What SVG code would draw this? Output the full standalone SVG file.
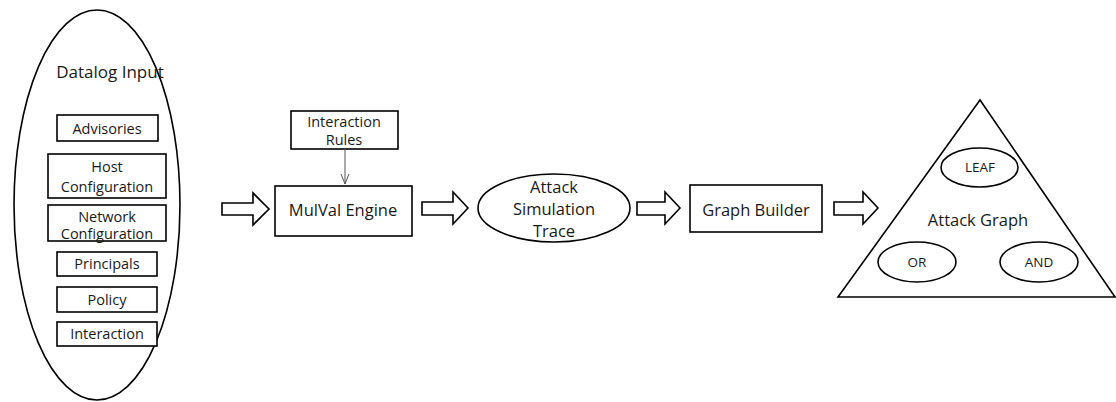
<svg xmlns="http://www.w3.org/2000/svg" width="1116" height="402" viewBox="0 0 1116 402">
<defs>
<style>
.s{fill:#fff;stroke:#000;stroke-width:1.6}
.t{font-family:"Open Sans","Liberation Sans",sans-serif;fill:#1a1a1a;text-anchor:middle}
.b{font-size:16.5px}
.m{font-size:14.5px}
.sm{font-size:13.5px}
.ba{fill:#fff;stroke:#000;stroke-width:1.6;stroke-linejoin:miter}
</style>
<marker id="v" viewBox="0 0 10 12" refX="5" refY="11" markerWidth="10" markerHeight="12" markerUnits="userSpaceOnUse" orient="0">
<path d="M1,1 L5,11 L9,1" fill="none" stroke="#555" stroke-width="1"/>
</marker>
</defs>
<rect width="1116" height="402" fill="#fff"/>
<g id="datalog">
<ellipse class="s" cx="97" cy="205" rx="83" ry="195"/>
<text class="t" style="font-size:17px" x="110" y="78">Datalog Input</text>
</g>
<g id="advisories"><rect class="s" x="57" y="115" width="101" height="26"/><text class="t m" x="107" y="134">Advisories</text></g>
<g id="host"><rect class="s" x="48" y="154" width="118" height="44"/><text class="t m" x="107" y="172">Host</text><text class="t m" x="107" y="192">Configuration</text></g>
<g id="network"><rect class="s" x="48" y="205" width="118" height="36"/><text class="t m" x="107" y="222">Network</text><text class="t m" x="107" y="239">Configuration</text></g>
<g id="principals"><rect class="s" x="57" y="252" width="100" height="24"/><text class="t m" x="107" y="269">Principals</text></g>
<g id="policy"><rect class="s" x="57" y="287" width="100" height="25"/><text class="t m" x="107" y="305">Policy</text></g>
<g id="interaction"><rect class="s" x="57" y="322" width="100" height="24"/><text class="t m" x="107" y="339">Interaction</text></g>
<g id="rules"><rect class="s" x="291" y="111" width="107" height="38"/><text class="t m" x="344" y="127">Interaction</text><text class="t m" x="344" y="145">Rules</text></g>
<g id="mulval"><rect class="s" x="275" y="186" width="137" height="50"/><text class="t b" x="343" y="216">MulVal Engine</text></g>
<g id="trace"><ellipse class="s" cx="554" cy="208" rx="76" ry="34"/><text class="t b" x="554" y="193">Attack</text><text class="t b" x="554" y="215">Simulation</text><text class="t b" x="554" y="237">Trace</text></g>
<g id="builder"><rect class="s" x="690" y="185" width="132" height="47"/><text class="t b" x="756" y="216">Graph Builder</text></g>
<g id="attackgraph">
<polygon class="s" points="980,100 838,297 1115,297"/>
<ellipse class="s" cx="979.5" cy="167.5" rx="38.5" ry="19.5"/>
<text class="t sm" x="980" y="172">LEAF</text>
<text class="t b" x="978" y="226">Attack Graph</text>
<ellipse class="s" cx="917" cy="262" rx="39" ry="20"/>
<text class="t sm" x="917" y="267">OR</text>
<ellipse class="s" cx="1039" cy="262" rx="39" ry="20"/>
<text class="t sm" x="1039" y="267">AND</text>
</g>
<g id="connectors">
<line x1="345" y1="149" x2="345" y2="184" stroke="#555" stroke-width="1" marker-end="url(#v)"/>
<path class="ba" d="M222,203 H253 V193 L269,209 L253,225 V215 H222 Z"/>
<path class="ba" d="M422,202 H453 V192 L468,208 L453,224 V215 H422 Z"/>
<path class="ba" d="M637,202 H665 V192 L680,208 L665,224 V215 H637 Z"/>
<path class="ba" d="M834,202 H863 V192 L878,208 L863,224 V215 H834 Z"/>
</g>
</svg>
